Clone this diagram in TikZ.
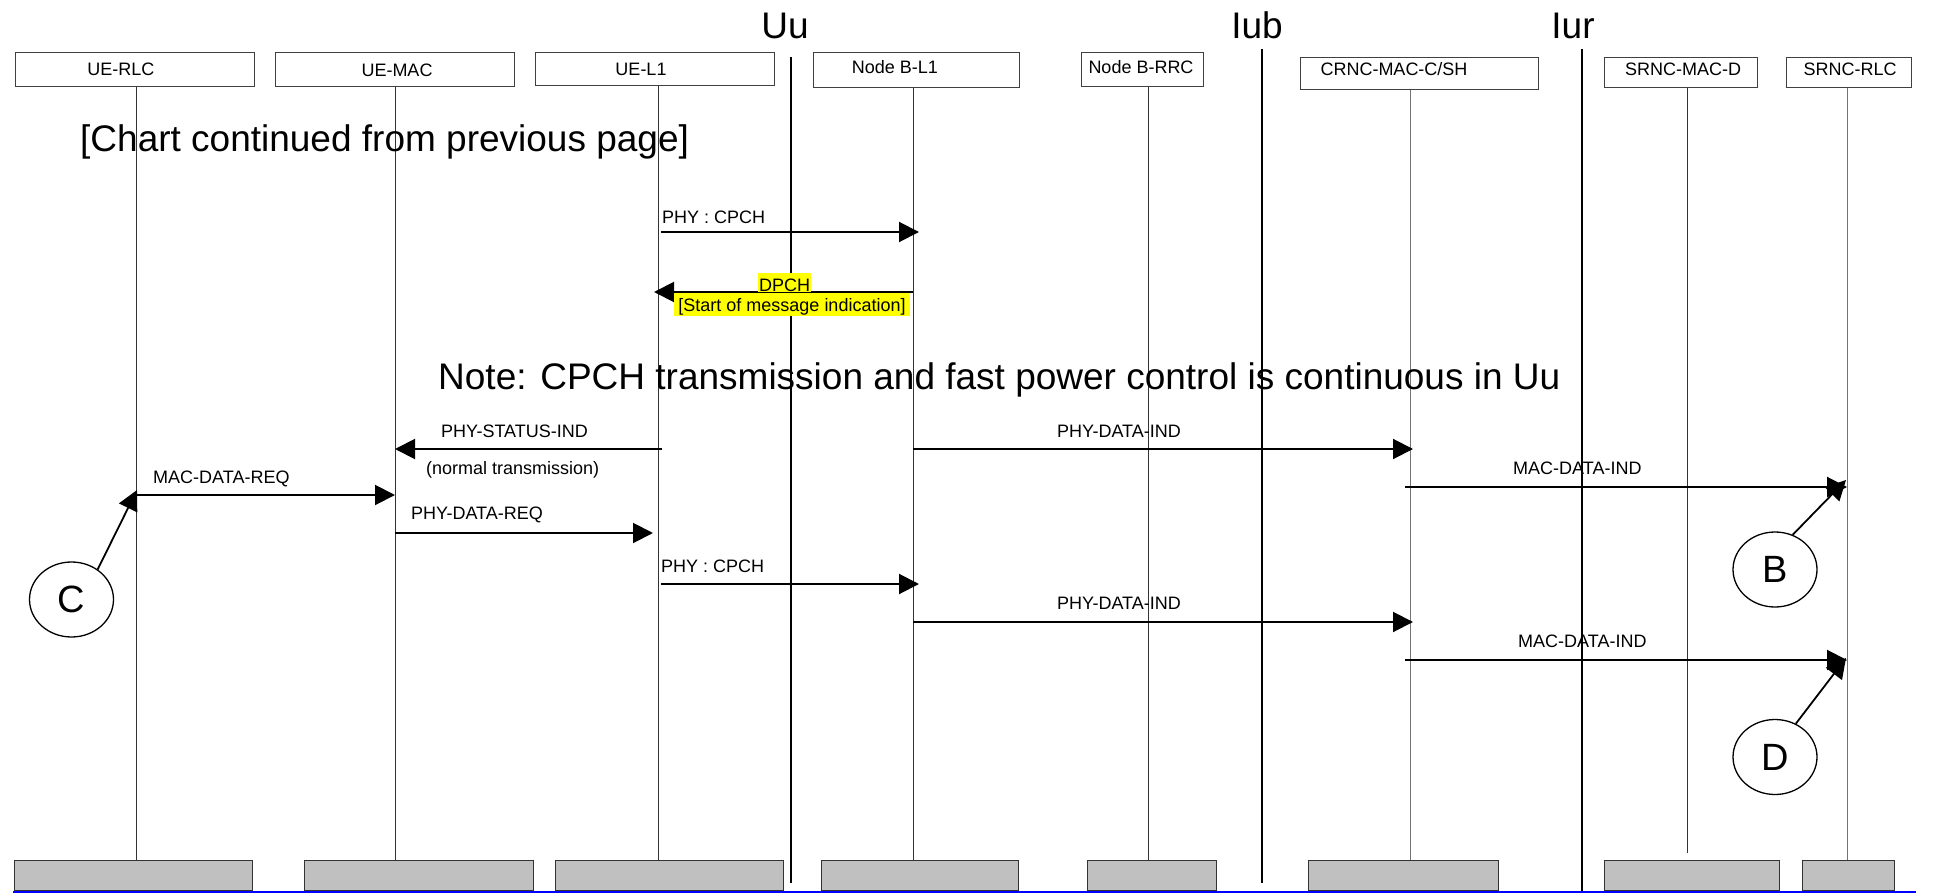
\documentclass[tikz,border=0pt]{standalone}
\usepackage{fontspec}
\setmainfont{Liberation Sans}
\usetikzlibrary{arrows.meta,shapes.geometric,calc}
\definecolor{boxgray}{RGB}{192,192,192}
\definecolor{hlyellow}{RGB}{255,255,0}
\definecolor{pageblue}{RGB}{0,0,255}
\begin{document}
\begin{tikzpicture}[x=1pt,y=-1pt,
  lbl/.style={font=\fontsize{18}{20}\selectfont, inner sep=0pt, anchor=base},
  lblw/.style={font=\fontsize{18}{20}\selectfont, inner sep=0pt, anchor=base west},
  bigtext/.style={font=\fontsize{37}{40}\selectfont, inner sep=0pt, anchor=base},
  topbox/.style={draw=black!75, line width=1pt, inner sep=0pt, anchor=north west},
  botbox/.style={draw=black!80, fill=boxgray, line width=1.2pt, inner sep=0pt, anchor=north west, minimum height=30pt},
  life/.style={draw=black!80, line width=1pt},
  lifegray/.style={draw=black!55, line width=1pt},
  iface/.style={draw=black, line width=2.5pt},
  msg/.style={draw=black, line width=2pt, -{Triangle[length=20pt,width=20pt]}},
  conn/.style={draw=black, line width=1.8pt, -{Triangle[length=20pt,width=20pt]}},
  lettercirc/.style={draw=black, line width=1.3pt, ellipse, inner sep=0pt, minimum width=84pt, minimum height=75pt, font=\fontsize{38}{40}\selectfont},
  hlnode/.style={fill=hlyellow, inner ysep=0pt, anchor=base, font=\fontsize{18}{20}\selectfont}
]
\useasboundingbox (0,0) rectangle (1948,893);

% top boxes
\node[topbox, minimum width=239pt, minimum height=34pt] (uerlc) at (14.7,52) {};
\node[topbox, minimum width=239pt, minimum height=34pt] (uemac) at (275,52) {};
\node[topbox, minimum width=239pt, minimum height=33pt] (uel1) at (535,52) {};
\node[topbox, minimum width=206pt, minimum height=35pt] (nbl1) at (813,52) {};
\node[topbox, minimum width=122pt, minimum height=34pt] (nbrrc) at (1081,52) {};
\node[topbox, minimum width=238pt, minimum height=32pt] (crnc) at (1300,57) {};
\node[topbox, minimum width=153pt, minimum height=30pt] (srncmacd) at (1604,57) {};
\node[topbox, minimum width=125pt, minimum height=30pt] (srncrlc) at (1786,57) {};

\node[lbl] (tuerlc) at (121,76) {UE-RLC};
\node[lbl] (tuemac) at (397,77) {UE-MAC};
\node[lbl] (tuel1) at (641,76) {UE-L1};
\node[lbl] (tnbl1) at (895,74) {Node B-L1};
\node[lbl] (tnbrrc) at (1141,74) {Node B-RRC};
\node[lbl] (tcrnc) at (1394,76) {CRNC-MAC-C/SH};
\node[lbl] (tsmacd) at (1683,76) {SRNC-MAC-D};
\node[lbl] (tsrlc) at (1850,76) {SRNC-RLC};

% bottom boxes
\node[botbox, minimum width=238pt] (b1) at (14,860) {};
\node[botbox, minimum width=229pt] (b2) at (304,860) {};
\node[botbox, minimum width=228pt] (b3) at (555,860) {};
\node[botbox, minimum width=197pt] (b4) at (821,860) {};
\node[botbox, minimum width=129pt] (b5) at (1087,860) {};
\node[botbox, minimum width=190pt] (b6) at (1308,860) {};
\node[botbox, minimum width=175pt] (b7) at (1604,860) {};
\node[botbox, minimum width=92pt] (b8) at (1802,860) {};

% lifeline x positions
\coordinate (L1) at (136,0);
\coordinate (L2) at (395,0);
\coordinate (L3) at (658,0);
\coordinate (L4) at (913,0);
\coordinate (L5) at (1148,0);
\coordinate (L6) at (1410,0);
\coordinate (L7) at (1687,0);
\coordinate (L8) at (1847,0);
\coordinate (L7end) at (1687,853);

\draw[life] (uerlc.south -| L1) -- (b1.north -| L1);
\draw[life] (uemac.south -| L2) -- (b2.north -| L2);
\draw[life] (uel1.south -| L3) -- (b3.north -| L3);
\draw[life] (nbl1.south -| L4) -- (b4.north -| L4);
\draw[life] (nbrrc.south -| L5) -- (b5.north -| L5);
\draw[lifegray] (crnc.south -| L6) -- (b6.north -| L6);
\draw[life] (srncmacd.south -| L7) -- (L7end);
\draw[lifegray] (srncrlc.south -| L8) -- (b8.north -| L8);

% interfaces
\coordinate (uuT) at (791,57);  \coordinate (uuB) at (791,883);
\coordinate (iubT) at (1262,49); \coordinate (iubB) at (1262,883);
\coordinate (iurT) at (1582,49); \coordinate (iurB) at (1582,891);
\draw[iface] (uuT) -- (uuB);
\draw[iface] (iubT) -- (iubB);
\draw[iface] (iurT) -- (iurB);
\node[bigtext] (tuu) at (785,39) {Uu};
\node[bigtext] (tiub) at (1257,39) {Iub};
\node[bigtext] (tiur) at (1573,39) {Iur};

\node[bigtext, anchor=base west] (chart) at (80,152) {[Chart continued from previous page]};
\node[bigtext, anchor=base west] (note) at (438,389) {Note: CPCH transmission and fast power control is continuous in Uu};

% messages
\draw[msg] ($(L3|-0,232)+(3,0)$) -- ($(L4|-0,232)+(6,0)$);
\node[lblw] (m1) at (662,224) {PHY : CPCH};

\draw[msg] (L4|-0,292) -- ($(L3|-0,292)+(-4,0)$);
\node[hlnode, inner xsep=1pt, text height=18pt, text depth=1pt] (m2a) at (784.5,291) {DPCH};
\node[hlnode, inner xsep=4pt, text height=19pt, text depth=4pt] (m2b) at (792,312) {[Start of message indication]};

\draw[msg] ($(L3|-0,449)+(4,0)$) -- (L2|-0,449);
\node[lblw] (m3a) at (441,437) {PHY-STATUS-IND};
\node[lblw] (m3b) at (426,474) {(normal transmission)};

\draw[msg] (L4|-0,449) -- ($(L6|-0,449)+(3,0)$);
\node[lblw] (m4) at (1057,437) {PHY-DATA-IND};

\draw[msg] ($(L6|-0,487)+(-5,0)$) -- (L8|-0,487);
\node[lblw] (m5) at (1513,474) {MAC-DATA-IND};

\draw[msg] (L1|-0,495) -- (L2|-0,495);
\node[lblw] (m6) at (153,483) {MAC-DATA-REQ};

\draw[msg] (L2|-0,533) -- ($(L3|-0,533)+(-5,0)$);
\node[lblw] (m7) at (411,519) {PHY-DATA-REQ};

\draw[msg] ($(L3|-0,584)+(3,0)$) -- ($(L4|-0,584)+(6,0)$);
\node[lblw] (m8) at (661,572) {PHY : CPCH};

\draw[msg] (L4|-0,622) -- ($(L6|-0,622)+(3,0)$);
\node[lblw] (m9) at (1057,609) {PHY-DATA-IND};

\draw[msg] ($(L6|-0,660)+(-5,0)$) -- (L8|-0,660);
\node[lblw] (m10) at (1518,647) {MAC-DATA-IND};

% reference markers
\node[lettercirc] (C) at (71.5,599.5) {C};
\node[lettercirc] (B) at (1775,569.5) {B};
\node[lettercirc] (D) at (1775,757) {D};
\coordinate (tipC) at (137,490);
\coordinate (tipB) at (1846,480);
\coordinate (tipD) at (1846,658);
\draw[conn] (C.49) -- (tipC);
\draw[conn] (B.63) -- (tipB);
\draw[conn] (D.58) -- (tipD);

% bottom page line
\coordinate (blS) at (13,892);
\coordinate (blE) at (1916,892);
\draw[pageblue, line width=1.5pt] (blS) -- (blE);
\end{tikzpicture}
\end{document}
